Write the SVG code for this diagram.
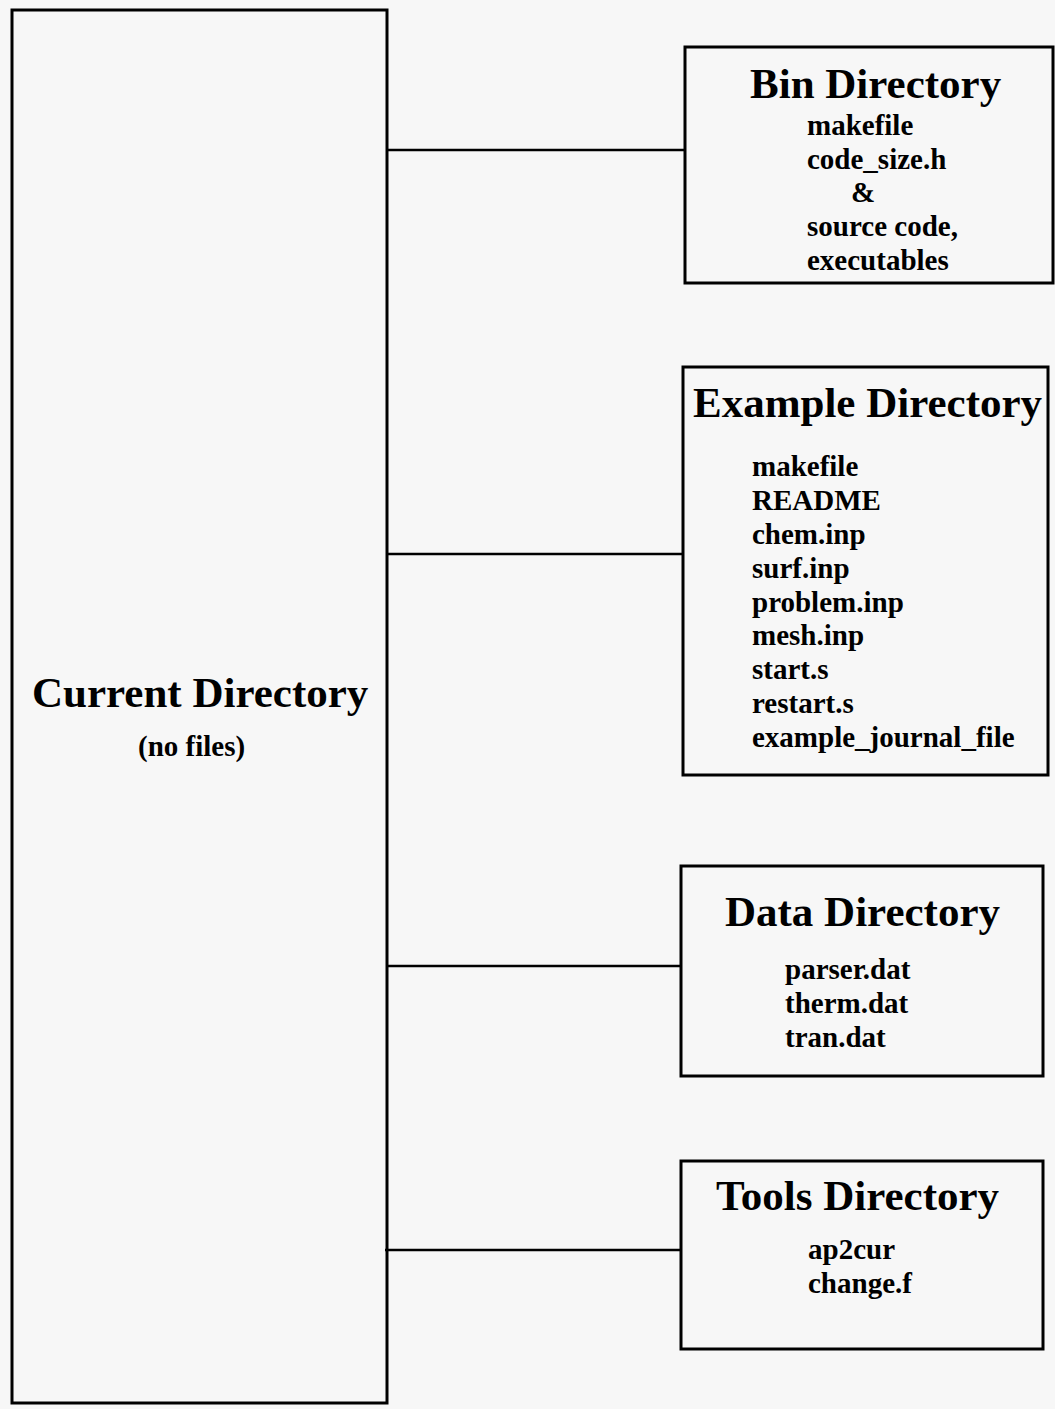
<svg xmlns="http://www.w3.org/2000/svg" width="1055" height="1409" viewBox="0 0 1055 1409">
<style>
.box{fill:none;stroke:#000;stroke-width:3}
.conn{stroke:#000;stroke-width:2.5;fill:none}
.title{font-family:"Liberation Serif","Times New Roman",serif;font-weight:bold;font-size:43px;fill:#000}
.item{font-family:"Liberation Serif","Times New Roman",serif;font-weight:bold;font-size:29px;fill:#000}
</style>
<rect width="1055" height="1409" fill="#f7f7f7"/>
<g id="connectors">
<line class="conn" x1="388" y1="150" x2="685" y2="150"/>
<line class="conn" x1="387" y1="554" x2="683" y2="554"/>
<line class="conn" x1="386" y1="966" x2="681" y2="966"/>
<line class="conn" x1="385" y1="1250" x2="681" y2="1250"/>
</g>
<g id="current">
<rect class="box" x="12" y="10" width="375" height="1393"/>
<text class="title" x="32" y="707">Current Directory</text>
<text class="item" x="138" y="756">(no files)</text>
</g>
<g id="bin">
<rect class="box" x="685" y="47" width="368" height="236"/>
<text class="title" x="750" y="98">Bin Directory</text>
<text class="item" x="807" y="135">makefile</text>
<text class="item" x="807" y="169">code_size.h</text>
<text class="item" x="851" y="202">&amp;</text>
<text class="item" x="807" y="236">source code,</text>
<text class="item" x="807" y="270">executables</text>
</g>
<g id="example">
<rect class="box" x="683" y="367" width="365" height="408"/>
<text class="title" x="693" y="417">Example Directory</text>
<text class="item" x="752" y="476">makefile</text>
<text class="item" x="752" y="510">README</text>
<text class="item" x="752" y="544">chem.inp</text>
<text class="item" x="752" y="578">surf.inp</text>
<text class="item" x="752" y="612">problem.inp</text>
<text class="item" x="752" y="645">mesh.inp</text>
<text class="item" x="752" y="679">start.s</text>
<text class="item" x="752" y="713">restart.s</text>
<text class="item" x="752" y="747">example_journal_file</text>
</g>
<g id="data">
<rect class="box" x="681" y="866" width="362" height="210"/>
<text class="title" x="725" y="926">Data Directory</text>
<text class="item" x="785" y="979">parser.dat</text>
<text class="item" x="785" y="1013">therm.dat</text>
<text class="item" x="785" y="1047">tran.dat</text>
</g>
<g id="tools">
<rect class="box" x="681" y="1161" width="362" height="188"/>
<text class="title" x="716" y="1210">Tools Directory</text>
<text class="item" x="808" y="1259">ap2cur</text>
<text class="item" x="808" y="1293">change.f</text>
</g>
</svg>
